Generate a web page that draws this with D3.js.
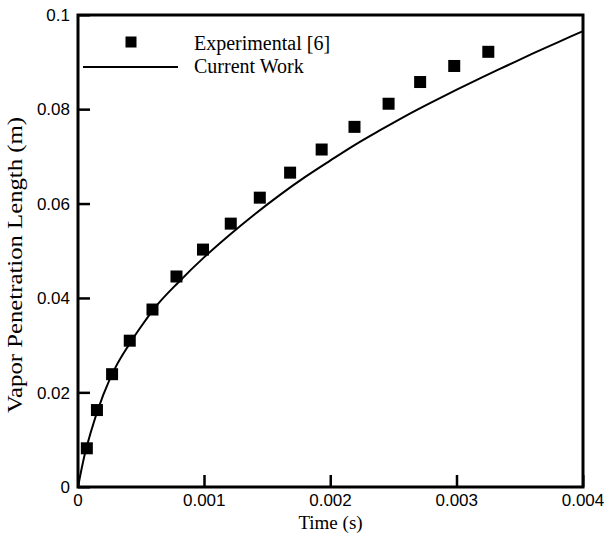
<!DOCTYPE html>
<html>
<head>
<meta charset="utf-8">
<script src="https://cdn.jsdelivr.net/npm/d3@7"></script>
<style>
body{margin:0;background:#fff;}
</style>
</head>
<body>
<script>
var width=607;
var height=533;
var margin={top:15,right:24,bottom:46,left:78};

// experimental points [6]
var expTime=[0.00007,0.00015,0.00027,0.00041,0.00059,0.00078,0.00099,0.00121,0.00144,0.00168,0.00193,0.00219,0.00246,0.00271,0.00298,0.00325];
var expLen=[0.0082,0.0163,0.0239,0.0310,0.0376,0.0446,0.0503,0.0558,0.0613,0.0666,0.0715,0.0763,0.0812,0.0858,0.0892,0.0922];

// current work curve
var simTime=[0,0.00005,0.0001,0.0002,0.0003,0.0004,0.0005,0.0006,0.0008,0.0010,0.0012,0.0014,0.0016,0.0018,0.0020,0.0022,0.0024,0.0026,0.0028,0.0030,0.0032,0.0034,0.0036,0.0038,0.0040];
var simLen=[0,0.0065,0.0115,0.0195,0.0255,0.0300,0.0340,0.0377,0.0435,0.0487,0.0534,0.0578,0.0619,0.0657,0.0692,0.0726,0.0757,0.0787,0.0815,0.0842,0.0868,0.0893,0.0918,0.0942,0.0966];

var xTicks=[0,0.001,0.002,0.003,0.004];
var yTicks=[0,0.02,0.04,0.06,0.08,0.1];
var xTitle="Time (s)";
var yTitle="Vapor Penetration Length (m)";
var legendNames=["Experimental [6]","Current Work"];

var svg=d3.select("body").append("svg").attr("width",width).attr("height",height);
var x=d3.scaleLinear().domain([0,0.004]).range([margin.left,width-margin.right]);
var y=d3.scaleLinear().domain([0,0.1]).range([height-margin.bottom,margin.top]);
var x0=margin.left, y0=height-margin.bottom;

var sansFont="'Liberation Sans',Arial,sans-serif";
var serifFont="'Liberation Serif','Times New Roman',serif";

// curve
var line=d3.line().curve(d3.curveMonotoneX)
    .x(function(d,i){return x(simTime[i]);})
    .y(function(d){return y(d);});
svg.append("path").datum(simLen)
    .attr("d",line)
    .attr("fill","none")
    .attr("stroke","#000")
    .attr("stroke-width",2);

// squares
var sq=12;
svg.selectAll("rect.pt").data(expLen).enter().append("rect")
    .attr("class","pt")
    .attr("x",function(d,i){return x(expTime[i])-sq/2;})
    .attr("y",function(d){return y(d)-sq/2;})
    .attr("width",sq)
    .attr("height",sq)
    .attr("fill","#000");

// frame
svg.append("rect")
    .attr("x",margin.left).attr("y",margin.top)
    .attr("width",width-margin.left-margin.right)
    .attr("height",height-margin.top-margin.bottom)
    .attr("fill","none").attr("stroke","#000").attr("stroke-width",3);

// inward ticks
svg.selectAll("rect.xtick").data(xTicks).enter().append("rect")
    .attr("class","xtick")
    .attr("x",function(d){return x(d)-1;})
    .attr("y",y0-12)
    .attr("width",2.5).attr("height",12)
    .attr("fill","#000");
svg.selectAll("rect.ytick").data(yTicks).enter().append("rect")
    .attr("class","ytick")
    .attr("x",x0)
    .attr("y",function(d){return y(d)-1;})
    .attr("width",12).attr("height",2.5)
    .attr("fill","#000");

// tick labels
var fmt=d3.format("");
svg.selectAll("text.xlab").data(xTicks).enter().append("text")
    .attr("class","xlab")
    .attr("x",function(d){return x(d);})
    .attr("y",y0+13)
    .attr("dy","0.35em")
    .attr("text-anchor","middle")
    .attr("font-family",sansFont).attr("font-size","17px")
    .text(function(d){return fmt(d);});
svg.selectAll("text.ylab").data(yTicks).enter().append("text")
    .attr("class","ylab")
    .attr("x",x0-8)
    .attr("y",function(d){return y(d);})
    .attr("dy","0.35em")
    .attr("text-anchor","end")
    .attr("font-family",sansFont).attr("font-size","17px")
    .text(function(d){return fmt(d);});

// titles
svg.append("text").attr("x",(margin.left+width-margin.right)/2).attr("y",529)
    .attr("text-anchor","middle").attr("font-family",serifFont).attr("font-size","19px")
    .text(xTitle);
svg.append("text").attr("transform","translate(22,265) rotate(-90)")
    .attr("text-anchor","middle").attr("font-family",serifFont).attr("font-size","20px")
    .attr("textLength",296).attr("lengthAdjust","spacingAndGlyphs")
    .text(yTitle);

// legend
var lg=svg.append("g");
lg.append("rect").attr("x",131-5.5).attr("y",42-5.5).attr("width",11).attr("height",11).attr("fill","#000");
lg.append("line").attr("x1",83).attr("x2",178).attr("y1",67).attr("y2",67).attr("stroke","#000").attr("stroke-width",2);
lg.selectAll("text").data(legendNames).enter().append("text")
    .attr("x",194)
    .attr("y",function(d,i){return 50+i*23;})
    .attr("font-family",serifFont).attr("font-size","20px")
    .text(function(d){return d;});
</script>
</body>
</html>
